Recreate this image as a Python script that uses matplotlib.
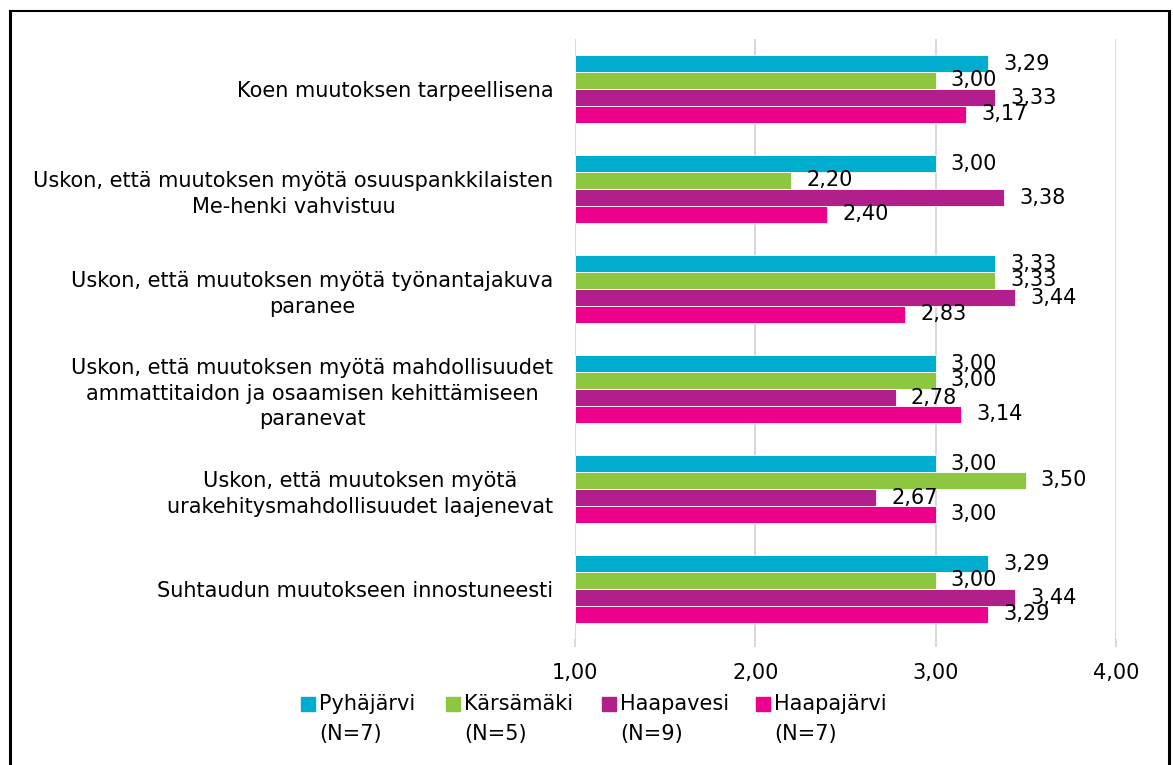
import matplotlib
matplotlib.use("Agg")
import matplotlib.pyplot as plt
from matplotlib.patches import Rectangle
from matplotlib.lines import Line2D
import numpy as np

categories = [
    "Koen muutoksen tarpeellisena",
    "Uskon, että muutoksen myötä osuuspankkilaisten\nMe-henki vahvistuu",
    "Uskon, että muutoksen myötä työnantajakuva\nparanee",
    "Uskon, että muutoksen myötä mahdollisuudet\nammattitaidon ja osaamisen kehittämiseen\nparanevat",
    "Uskon, että muutoksen myötä\nurakehitysmahdollisuudet laajenevat",
    "Suhtaudun muutokseen innostuneesti",
]
series_names = ["Pyhäjärvi\n(N=7)", "Kärsämäki\n(N=5)", "Haapavesi\n(N=9)", "Haapajärvi\n(N=7)"]
pyhajarvi = [3.29, 3.00, 3.33, 3.00, 3.00, 3.29]
karsamaki = [3.00, 2.20, 3.33, 3.00, 3.50, 3.00]
haapavesi = [3.33, 3.38, 3.44, 2.78, 2.67, 3.44]
haapajarvi = [3.17, 2.40, 2.83, 3.14, 3.00, 3.29]
colors = ["#00ADCE", "#8DC63F", "#B31E8D", "#EC008C"]
x_ticks = [1.0, 2.0, 3.0, 4.0]

values = [pyhajarvi, karsamaki, haapavesi, haapajarvi]

W, H = 1173, 765
fig = plt.figure(figsize=(W / 100, H / 100), dpi=100)
plt.rcParams['font.family'] = ['DejaVu Sans']
FS = 15

ax_left, ax_right = 575 / W, 1116 / W
ax_top, ax_bottom = 39 / H, 639 / H
ax = fig.add_axes([ax_left, 1 - ax_bottom, ax_right - ax_left, ax_bottom - ax_top])

n = len(categories)
y = np.arange(n)
bh = 0.17
base = 1.0
for i, (vals, col) in enumerate(zip(values, colors)):
    offs = (i - 1.5) * bh
    vals = np.asarray(vals)
    ax.barh(y + offs, vals - base, left=base, height=bh, color=col,
            edgecolor="white", linewidth=0.6, zorder=3)
    for yy, v in zip(y + offs, vals):
        ax.annotate(f"{v:.2f}".replace(".", ","), xy=(v, yy), xytext=(15, 0),
                    textcoords="offset pixels", ha="left", va="center",
                    fontsize=FS, color="#000000", zorder=5)

ax.set_xlim(1, 4)
ax.set_ylim(n - 0.5, -0.5)
ax.set_xticks(x_ticks)
ax.set_xticklabels([f"{t:.2f}".replace(".", ",") for t in x_ticks], fontsize=FS)
ax.set_yticks(y)
ax.set_yticklabels(categories, fontsize=FS, multialignment="center", linespacing=1.35)
ax.tick_params(axis="y", length=0, pad=15.5)
ax.tick_params(axis="x", length=6, color="#D9D9D9", width=1.5, pad=11.5)
ax.grid(axis="x", color="#D9D9D9", linewidth=1.5, zorder=0)
for s in ax.spines.values():
    s.set_visible(False)

# legend drawn manually
leg_x = [301, 446, 602, 756]
for name, col, lx in zip(series_names, colors, leg_x):
    fig.patches.append(Rectangle((lx / W, 1 - 711 / H), 14 / W, 14 / H,
                                 transform=fig.transFigure, color=col))
    l1, l2 = name.split("\n")
    fig.text((lx + 18) / W, 1 - 704 / H, l1, fontsize=FS, va="center", ha="left")
    fig.text((lx + 18) / W, 1 - 734 / H, l2, fontsize=FS, va="center", ha="left")

# outer frame
fig.add_artist(Line2D([10 / W, 10 / W], [0, 1 - 11 / H], transform=fig.transFigure, color="black", lw=2.2))
fig.add_artist(Line2D([10 / W, 1169 / W], [1 - 11 / H, 1 - 11 / H], transform=fig.transFigure, color="black", lw=1.5))
fig.add_artist(Line2D([1169 / W, 1169 / W], [0, 1 - 11 / H], transform=fig.transFigure, color="black", lw=2.2))

fig.savefig("out.png", dpi=100, facecolor="white")
